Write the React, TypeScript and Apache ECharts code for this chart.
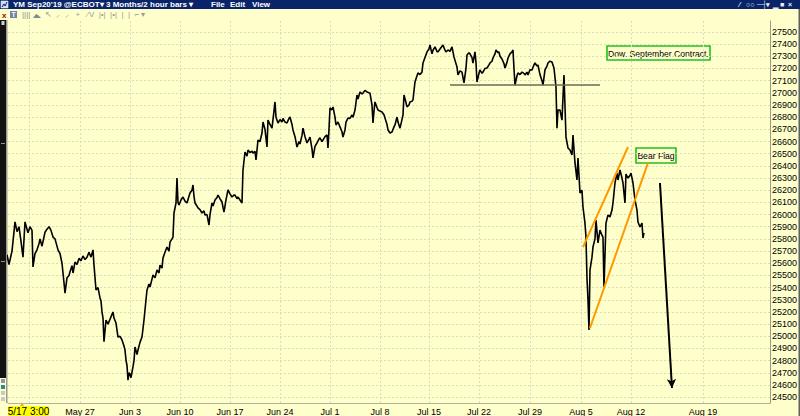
import React, { useEffect, useRef } from 'react';
import * as echarts from 'echarts';

// 2-hour bars: [bar number, price]
const priceBars: [number, number][] = [
  [7, 25670], [9, 25590], [12, 25700], [15, 25940], [17, 25860], [19, 25900], [21, 25780], [23, 25650],
  [25, 25940], [27, 25880], [28, 25850], [30, 25900], [32, 25870], [33, 25570], [35, 25680], [37, 25710],
  [39, 25760], [40, 25800], [42, 25740], [45, 25855], [47, 25880], [49, 25900], [51, 25870], [53, 25815],
  [55, 25800], [58, 25710], [60, 25680], [62, 25600], [64, 25440], [65, 25355], [67, 25480], [69, 25500],
  [70, 25530], [72, 25580], [73, 25520], [75, 25610], [77, 25590], [79, 25640], [81, 25620], [83, 25660],
  [85, 25630], [87, 25650], [89, 25690], [91, 25650], [93, 25710], [94, 25585], [96, 25380], [98, 25400],
  [100, 25315], [101, 25290], [102, 25200], [103, 25150], [104, 24955], [106, 25134], [108, 25100], [110, 25140],
  [112, 25180], [113, 25200], [114, 25150], [116, 25109], [117, 25050], [118, 24994], [120, 25000], [122, 24970],
  [124, 24920], [125, 24887], [126, 24805], [127, 24760], [128, 24640], [129, 24700], [130, 24690], [131, 24660],
  [133, 24750], [134, 24800], [135, 24912], [137, 24850], [138, 24887], [140, 24950], [142, 24994], [144, 25134],
  [146, 25300], [147, 25380], [149, 25430], [150, 25405], [152, 25470], [153, 25503], [155, 25480], [157, 25544],
  [159, 25520], [160, 25585], [162, 25560], [163, 25643], [165, 25690], [167, 25733], [169, 25700], [170, 25774],
  [172, 25800], [173, 25815], [174, 26013], [176, 26095], [177, 26300], [178, 26100], [179, 26078], [181, 26120],
  [183, 26144], [185, 26110], [187, 26095], [189, 26150], [190, 26177], [192, 26200], [193, 26243], [194, 26150],
  [195, 26095], [197, 26070], [198, 26054], [200, 26040], [202, 26013], [204, 26030], [205, 25996], [207, 26000],
  [209, 25914], [210, 26000], [212, 26095], [213, 26070], [215, 26120], [217, 26140], [218, 26160], [220, 26130],
  [222, 26103], [223, 26060], [224, 26021], [226, 26120], [228, 26202], [230, 26170], [232, 26144], [234, 26160],
  [235, 26160], [237, 26130], [238, 26144], [240, 26120], [242, 26095], [243, 26366], [245, 26514], [247, 26480],
  [248, 26530], [250, 26510], [252, 26520], [253, 26505], [255, 26520], [256, 26448], [258, 26612], [260, 26600],
  [262, 26670], [263, 26760], [265, 26700], [267, 26555], [268, 26777], [270, 26740], [272, 26710], [273, 26780],
  [275, 26925], [276, 26800], [278, 26752], [280, 26780], [282, 26760], [283, 26790], [285, 26760], [287, 26752],
  [289, 26790], [290, 26801], [292, 26740], [293, 26695], [295, 26640], [297, 26555], [299, 26600], [300, 26580],
  [302, 26650], [303, 26710], [305, 26640], [307, 26588], [309, 26620], [310, 26637], [312, 26540], [313, 26465],
  [315, 26560], [317, 26588], [319, 26620], [320, 26630], [322, 26600], [323, 26612], [325, 26640], [327, 26654],
  [328, 26547], [329, 26700], [330, 26876], [332, 26860], [333, 26884], [335, 26800], [336, 26736], [338, 26760],
  [340, 26720], [342, 26680], [343, 26637], [345, 26695], [346, 26760], [348, 26793], [350, 26790], [352, 26818],
  [353, 26800], [355, 26859], [357, 26982], [358, 26950], [360, 27007], [362, 26990], [363, 26998], [365, 27020],
  [367, 27007], [369, 27000], [370, 26998], [372, 26900], [373, 26752], [374, 26850], [375, 26925], [377, 26880],
  [378, 26859], [380, 26850], [382, 26843], [384, 26820], [385, 26793], [387, 26740], [388, 26695], [390, 26670],
  [392, 26678], [394, 26720], [395, 26736], [397, 26801], [398, 26760], [400, 26710], [402, 26780], [403, 26818],
  [404, 26982], [406, 26920], [407, 26884], [409, 26900], [410, 26925], [412, 26930], [413, 26942], [415, 27089],
  [417, 27140], [418, 27163], [420, 27150], [422, 27170], [423, 27245], [425, 27290], [427, 27336], [429, 27360],
  [430, 27393], [432, 27320], [433, 27350], [435, 27377], [437, 27340], [438, 27336], [440, 27360], [443, 27393],
  [445, 27350], [446, 27336], [448, 27352], [450, 27340], [452, 27377], [454, 27295], [456, 27240], [457, 27212],
  [458, 27147], [460, 27180], [462, 27170], [464, 27081], [466, 27200], [467, 27311], [469, 27330], [470, 27320],
  [472, 27290], [473, 27245], [475, 27336], [476, 27250], [477, 27089], [479, 27160], [480, 27188], [482, 27160],
  [483, 27170], [485, 27200], [487, 27204], [489, 27230], [490, 27245], [492, 27260], [493, 27286], [495, 27320],
  [496, 27352], [498, 27330], [499, 27336], [500, 27300], [502, 27278], [504, 27240], [505, 27204], [507, 27250],
  [508, 27286], [510, 27320], [512, 27336], [513, 27352], [514, 27200], [515, 27064], [517, 27140], [518, 27163],
  [520, 27150], [522, 27170], [524, 27160], [525, 27147], [527, 27170], [528, 27147], [530, 27190], [532, 27188],
  [534, 27230], [535, 27245], [537, 27220], [538, 27229], [540, 27150], [542, 27100], [543, 27064], [545, 27188],
  [547, 27220], [548, 27245], [550, 27260], [552, 27254], [554, 27204], [556, 27048], [557, 26710], [558, 26859],
  [560, 26859], [562, 26776], [564, 27147], [566, 26637], [568, 26547], [570, 26530], [572, 26490], [573, 26654],
  [575, 26424], [577, 26284], [578, 26465], [580, 26177], [582, 26200], [583, 26062], [585, 25930], [586, 25815],
  [587, 25480], [588, 25300], [589, 25051], [590, 25544], [592, 25650], [593, 25733], [595, 25800], [596, 25955],
  [598, 25767], [600, 25873], [602, 25830], [603, 25815], [604, 25405], [606, 25930], [608, 25996], [610, 25980],
  [612, 26037], [613, 26095], [615, 26259], [617, 26341], [618, 26284], [620, 26366], [622, 26300], [623, 26259],
  [625, 26095], [626, 26333], [628, 26300], [630, 26320], [631, 26341], [633, 26259], [635, 26120], [637, 26037],
  [638, 25939], [640, 25898], [642, 25930], [643, 25807], [644, 25850],
];

const weekTickBars = [29, 80, 130, 180, 230, 280, 330, 380, 429, 479, 530, 581, 631, 703];
const weekTickLabels = ['', 'May 27', 'Jun 3', 'Jun 10', 'Jun 17', 'Jun 24', 'Jul 1', 'Jul 8', 'Jul 15', 'Jul 22', 'Jul 29', 'Aug 5', 'Aug 12', 'Aug 19'];
const priceTicks = [
  24500, 24600, 24700, 24800, 24900, 25000, 25100, 25200, 25300, 25400, 25500, 25600, 25700, 25800, 25900, 26000,
  26100, 26200, 26300, 26400, 26500, 26600, 26700, 26800, 26900, 27000, 27100, 27200, 27300, 27400, 27500,
];
const startLabel = '5/17 3:00';
const supportLine: [number, number][] = [[450, 27064], [600, 27064]];
const flagUpper: [number, number][] = [[583, 25733], [628, 26555]];
const flagLower: [number, number][] = [[590, 25068], [648, 26424]];
const dropArrow: [number, number][] = [[660, 26259], [672, 24575]];
const titleParts: [number, string][] = [[13, "YM Sep20'19 @ECBOT▾"], [106, '3 Months/2 hour bars ▾'], [211, 'File'], [230, 'Edit'], [252, 'View']];
const windowIcons: [number, string][] = [[739, '⁄'], [746, '○○'], [757, '─┤'], [766, '▾'], [773, '▁'], [780, '■'], [788, '×']];
const contractNote = 'Dow. September Contract.';
const flagNote = 'Bear Flag';

const BG = '#ffffcc';
const FONT = '"Liberation Sans", Arial, sans-serif';

export default function App() {
  const ref = useRef<HTMLDivElement>(null);
  useEffect(() => {
    const el = ref.current!;
    const chart = echarts.init(el, null, { renderer: 'svg' });
    const seg = (pts: [number, number][], color: string, width: number, arrow = false) => [
      { coord: pts[0], symbol: 'none', lineStyle: { color, width, type: 'solid' } },
      { coord: pts[1], symbol: arrow ? 'arrow' : 'none', symbolSize: arrow ? [7, 9] : 0, lineStyle: { color, width, type: 'solid' } },
    ];
    const graphic: any[] = [
      { type: 'rect', shape: { x: 0, y: 0, width: 800, height: 9 }, style: { fill: '#0a246a' }, silent: true },
      { type: 'rect', shape: { x: 1, y: 1, width: 7, height: 7 }, style: { fill: '#c8d8f0', stroke: '#ffffff', lineWidth: 0.5 }, silent: true },
      { type: 'polyline', shape: { points: [[2, 7], [4, 4], [5, 6], [7, 2]] }, style: { stroke: '#0a246a', lineWidth: 1, fill: 'none' }, silent: true },
      ...titleParts.map(([x, t]) => ({
        type: 'text', x, y: 0.5, silent: true,
        style: { text: t, fill: '#ffffff', font: `bold 8px ${FONT}`, textVerticalAlign: 'top' },
      })),
      ...windowIcons.map(([x, t]) => ({
        type: 'text', x, y: 0.5, silent: true,
        style: { text: t, fill: '#e8eef8', font: `bold 7px ${FONT}`, textVerticalAlign: 'top' },
      })),
      // toolbar row
      { type: 'text', x: 2, y: 11, silent: true, style: { text: 'x', fill: '#a00000', font: `bold 8px ${FONT}` } },
      { type: 'rect', shape: { x: 10, y: 11, width: 7, height: 7 }, style: { fill: '#6e84a8' }, silent: true },
      { type: 'text', x: 11.5, y: 11, silent: true, style: { text: 'T', fill: '#ffffff', font: `bold 7px ${FONT}` } },
      { type: 'text', x: 22, y: 10, silent: true, style: { text: '||||', fill: '#8a8a8a', font: `8px ${FONT}` } },
      { type: 'polygon', shape: { points: [[33, 18], [36, 14], [38, 15], [41, 18]] }, style: { fill: '#7a8aa0' }, silent: true },
      { type: 'text', x: 45, y: 10, silent: true, style: { text: '↖  ⸝  ⸝   +   ⁄\u200AV  |•|  |•|  |  |  ⌐ ▾', fill: '#9a9a9a', font: `8px ${FONT}` } },
      // left bar
      { type: 'rect', shape: { x: 0, y: 20, width: 6, height: 358 }, style: { fill: '#121212' }, silent: true },
      { type: 'rect', shape: { x: 6, y: 20, width: 1.5, height: 383 }, style: { fill: '#9a9a90' }, silent: true },
      { type: 'rect', shape: { x: 1.5, y: 21, width: 3, height: 4 }, style: { fill: '#d0d0d0' }, silent: true },
      { type: 'rect', shape: { x: 1, y: 143, width: 4, height: 1 }, style: { fill: '#909090' }, silent: true },
      { type: 'rect', shape: { x: 1, y: 261, width: 4, height: 1 }, style: { fill: '#909090' }, silent: true },
      { type: 'rect', shape: { x: 1, y: 379, width: 4, height: 4 }, style: { fill: '#8898a8' }, silent: true },
      { type: 'rect', shape: { x: 1, y: 385, width: 4, height: 4 }, style: { fill: '#2a8a9a' }, silent: true },
      { type: 'rect', shape: { x: 1, y: 391, width: 4, height: 4 }, style: { fill: '#c8c8c8' }, silent: true },
      { type: 'rect', shape: { x: 1, y: 397, width: 4, height: 4 }, style: { fill: '#c8c8c8' }, silent: true },
      // right border
      { type: 'rect', shape: { x: 798.5, y: 9, width: 1.5, height: 407 }, style: { fill: '#606060' }, silent: true },
      // start date label
      { type: 'polygon', shape: { points: [[20, 406], [22, 402.5], [24, 406]] }, style: { fill: '#e0b800' }, silent: true },
      { type: 'rect', shape: { x: 8, y: 406, width: 41, height: 10 }, style: { fill: '#ffff00' }, silent: true },
      { type: 'text', x: 28.5, y: 411.5, silent: true, style: { text: startLabel, fill: '#000', font: `10px ${FONT}`, textAlign: 'center', textVerticalAlign: 'middle' } },
      // notes
      { type: 'rect', shape: { x: 607, y: 46, width: 103, height: 14 }, style: { fill: BG, stroke: '#20c020', lineWidth: 1.6 }, silent: true },
      { type: 'text', x: 658.5, y: 53.5, silent: true, style: { text: contractNote, fill: '#000', font: `8.6px ${FONT}`, textAlign: 'center', textVerticalAlign: 'middle' } },
      { type: 'rect', shape: { x: 636, y: 148, width: 40, height: 15 }, style: { fill: BG, stroke: '#20c020', lineWidth: 1.6 }, silent: true },
      { type: 'text', x: 656, y: 155.5, silent: true, style: { text: flagNote, fill: '#000', font: `8.6px ${FONT}`, textAlign: 'center', textVerticalAlign: 'middle' } },
    ];
    const option: any = {
      animation: false,
      backgroundColor: BG,
      grid: { left: 8, right: 30, top: 21, bottom: 13, containLabel: false },
      xAxis: {
        type: 'value', min: 8, max: 770,
        axisLine: { show: true, lineStyle: { color: '#b0b0a0', width: 1 } },
        axisTick: { show: false, customValues: weekTickBars },
        axisLabel: {
          customValues: weekTickBars, margin: 4, color: '#000', fontSize: 9, fontFamily: FONT,
          formatter: (v: number) => { const i = weekTickBars.indexOf(v); return i >= 0 ? weekTickLabels[i] : ''; },
        },
        splitLine: { show: true, lineStyle: { color: '#dcdcbc', type: [2, 2], width: 1 } },
      },
      yAxis: {
        type: 'value', position: 'right', min: 24452, max: 27590, scale: true,
        axisLine: { show: true, lineStyle: { color: '#9a9a8a', width: 1 } },
        axisTick: { show: false, customValues: priceTicks },
        axisLabel: { customValues: priceTicks, margin: 2, color: '#000', fontSize: 9, fontFamily: FONT, formatter: (v: number) => String(v) },
        splitLine: { show: true, lineStyle: { color: '#dcdcbc', type: [2, 2], width: 1 } },
      },
      series: [
        {
          type: 'line', data: priceBars, showSymbol: false, symbol: 'none',
          lineStyle: { color: '#000', width: 1.6 }, silent: true, z: 3,
          markLine: {
            silent: true, animation: false, symbol: 'none', label: { show: false },
            data: [
              seg(supportLine, '#6a6a5a', 1.5),
              seg(flagUpper, '#ff9900', 2),
              seg(flagLower, '#ff9900', 2),
              seg(dropArrow, '#000000', 2, true),
            ],
          },
        },
      ],
      graphic,
    };
    chart.setOption(option);
    return () => chart.dispose();
  }, []);
  return <div ref={ref} style={{ position: 'fixed', left: 0, top: 0, width: 800, height: 416, background: BG }} />;
}
